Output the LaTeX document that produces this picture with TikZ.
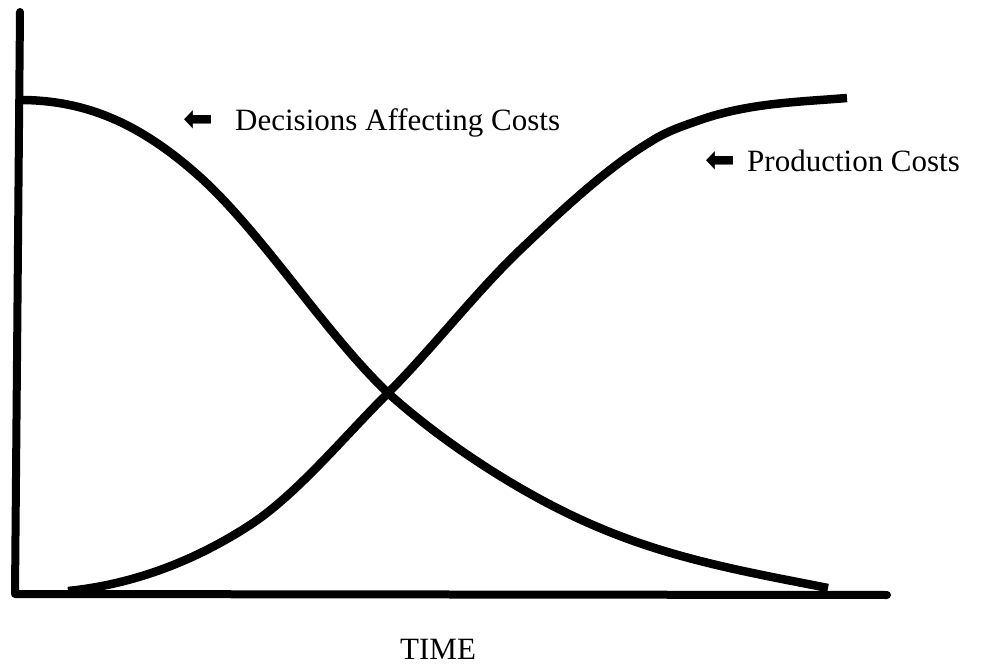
\documentclass[tikz,border=0pt]{standalone}
\usepackage{fontspec}
\setmainfont{Liberation Serif}
\newfontfamily\arrowfnt{DejaVu Sans}
\newcommand{\lblarrow}[1]{\makebox[#1][l]{\raisebox{-1pt}{\resizebox*{30pt}{21pt}{\raisebox{\depth}{\arrowfnt ⬅}}}}}
\begin{document}
\begin{tikzpicture}[x=1pt,y=-1pt,
  axisline/.style={line width=8pt,line cap=round,line join=round},
  curveline/.style={line width=8.5pt,line cap=butt,line join=round},
  lbl/.style={inner sep=0pt,anchor=base west,font=\fontsize{31}{36}\selectfont}]
\useasboundingbox (0,0) rectangle (983,668);
% axes
\coordinate (top) at (20,12);
\coordinate (origin) at (15,594);
\coordinate (xend) at (887,595);
\draw[axisline] (top) -- (origin) -- (xend);
% decisions affecting costs
\coordinate (d0) at (20,100);
\coordinate (d1) at (200,177);
\coordinate (d2) at (388,393);
\coordinate (d3) at (600,528);
\coordinate (d4) at (828,588);
\draw[curveline] (d0) .. controls (85,100) and (140,123) .. (d1)
  .. controls (263,234) and (325,333) .. (d2)
  .. controls (448,447) and (530,499) .. (d3)
  .. controls (676,560) and (752,573) .. (d4);
% production costs
\coordinate (p0) at (68,591);
\coordinate (p1) at (250,525);
\coordinate (p2) at (388,393);
\coordinate (p3) at (520,250);
\coordinate (p4) at (650,142);
\coordinate (p5) at (700,120);
\coordinate (p6) at (847,98);
\draw[curveline] (p0) .. controls (128,585) and (190,564) .. (p1)
  .. controls (296,495) and (342,439) .. (p2)
  .. controls (432,349) and (476,292) .. (p3)
  .. controls (563,209) and (607,168) .. (p4)
  .. controls (667,131) and (683,126) .. (p5)
  .. controls (749,103) and (798,102) .. (p6);
% labels
\node[lbl] (dec) at (183.5,131) {\lblarrow{51.5pt}Decisions Affecting Costs};
\node[lbl] (prod) at (705.5,172) {\lblarrow{41.5pt}Production Costs};
\node[lbl] (time) at (400,659) {TIME};
\end{tikzpicture}
\end{document}
